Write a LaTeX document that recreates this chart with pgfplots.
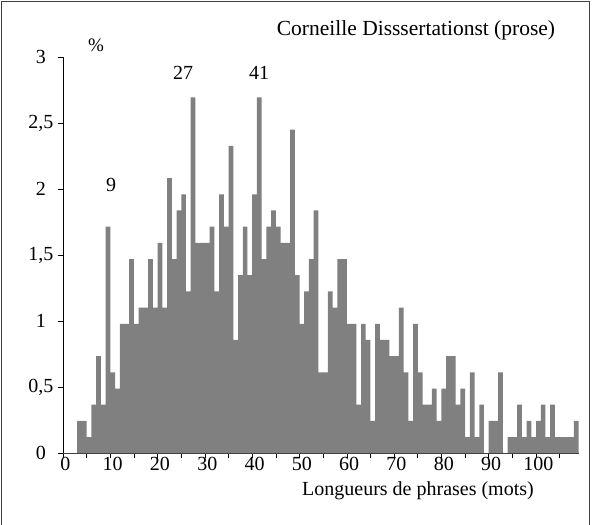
\documentclass[border=0pt]{standalone}
\usepackage{fontspec}
\setmainfont{Liberation Serif}
\usepackage{pgfplots}
\pgfplotsset{compat=1.18}
\usepackage{pgfplotstable}
\definecolor{bargray}{HTML}{808080}
\definecolor{axgray}{HTML}{404040}

\pgfplotstableread{
x y
3 0.245
4 0.245
5 0.123
6 0.368
7 0.735
8 0.368
9 1.715
10 0.613
11 0.490
12 0.980
13 0.980
14 1.470
15 0.980
16 1.103
17 1.103
18 1.470
19 1.103
20 1.593
21 1.103
22 2.083
23 1.470
24 1.838
25 1.960
26 1.225
27 2.695
28 1.593
29 1.593
30 1.593
31 1.715
32 1.225
33 1.960
34 1.715
35 2.328
36 0.858
37 1.348
38 1.715
39 1.348
40 1.960
41 2.695
42 1.470
43 1.715
44 1.838
45 1.715
46 1.593
47 1.593
48 2.450
49 1.348
50 0.980
51 1.225
52 1.470
53 1.838
54 0.613
55 0.613
56 1.225
57 1.103
58 1.470
59 1.470
60 0.980
61 0.980
62 0.368
63 0.980
64 0.858
65 0.245
66 0.980
67 0.858
68 0.858
69 0.735
70 0.735
71 1.103
72 0.613
73 0.245
74 0.980
75 0.613
76 0.368
77 0.368
78 0.490
79 0.245
80 0.490
81 0.735
82 0.735
83 0.368
84 0.490
85 0.123
86 0.613
87 0.123
88 0.368
89 0
90 0.245
91 0.245
92 0.613
93 0
94 0.123
95 0.123
96 0.368
97 0.123
98 0.245
99 0.123
100 0.245
101 0.368
102 0.123
103 0.368
104 0.123
105 0.123
106 0.123
107 0.123
108 0.245
}\datatable

\begin{document}
\begin{tikzpicture}[x=1pt,y=1pt]
\useasboundingbox (-63,-71.7) rectangle (529,453.3);
\draw[black!75, line width=0.8pt] (-61.3,-71.7) -- (-61.3,451.6) -- (526.3,451.6) -- (526.3,-71.7);
\begin{axis}[
  at={(0,0)}, anchor=south west,
  scale only axis, width=515.6pt, height=396.3pt,
  xmin=-0.5, xmax=108.5, ymin=0, ymax=3,
  axis x line*=bottom, axis y line*=left,
  axis on top,
  x axis line style={axgray, line width=1.3pt},
  y axis line style={black, line width=0.6pt},
  tick align=outside,
  major tick length=5pt, minor tick length=5pt,
  xtick={0,10,...,100},
  xticklabels={0,10,20,30,40,50,60,70,80,90,100},
  major x tick style={draw=none},
  minor xtick={-0.5,4.5,...,104.5},
  minor x tick style={black, line width=0.6pt},
  ytick={0,0.5,...,3},
  yticklabels={0,{0,5},1,{1,5},2,{2,5},3},
  major y tick style={black, line width=0.6pt},
  /pgf/number format/assume math mode=true,
  ticklabel style={font=\fontsize{20}{24}\selectfont},
  xticklabel style={yshift=5pt},
  yticklabel style={anchor=center, xshift=-17pt},
]
\addplot[ybar, bar width=1, bar shift=0pt, fill=bargray, draw=none] table[x=x, y=y] {\datatable};
\end{axis}
\node[font=\fontsize{20}{24}\selectfont] at (355,-37.7) {Longueurs de phrases (mots)};
\node[font=\fontsize{21.5}{25}\selectfont] at (353,423.3) {Corneille Disssertationst (prose)};
\node[font=\fontsize{19}{22}\selectfont] at (33,408.3) {\%};
\node[font=\fontsize{20}{24}\selectfont] at (48,268.3) {9};
\node[font=\fontsize{20}{24}\selectfont] at (120,380.3) {27};
\node[font=\fontsize{20}{24}\selectfont] at (196,380.3) {41};
\end{tikzpicture}
\end{document}
